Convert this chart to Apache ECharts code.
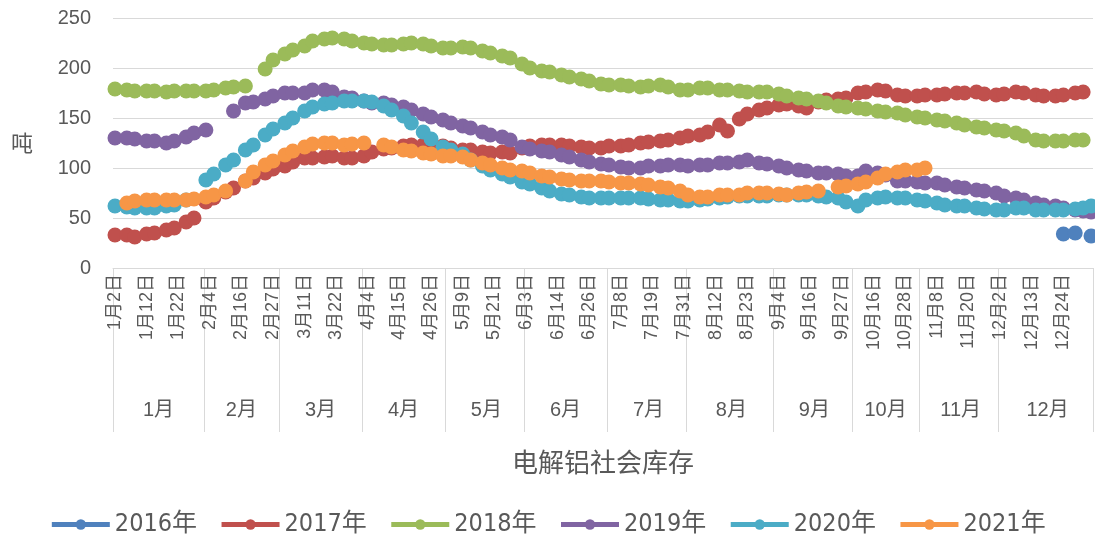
<!DOCTYPE html>
<html>
<head>
<meta charset="utf-8">
<script src="https://cdn.jsdelivr.net/npm/echarts@6/dist/echarts.min.js"></script>
<style>
html,body{margin:0;padding:0;background:#fff;}
#chart{width:1095px;height:540px;}
</style>
</head>
<body>
<div id="chart"></div>
<script>
// Trading-day categories, listed per month (day numbers)
const monthNames = ['1月','2月','3月','4月','5月','6月','7月','8月','9月','10月','11月','12月'];
const daysJan = [2,3,4,5,6,9,10,11,12,15,16,17,18,19,20,21,22,23,24,25,26,29,30];
const daysFeb = [1,4,5,6,7,8,11,12,13,16,19,20,21,22,23,25,26,27,28];
const daysMar = [1,4,5,6,7,8,11,12,13,14,15,18,19,21,22,25,26,27,28,29,30];
const daysApr = [1,4,5,8,9,10,11,12,13,15,16,17,18,19,22,24,25,26,27,28,29];
const daysMay = [2,3,6,8,9,10,13,14,15,16,17,20,21,22,23,24,27,28,29,31];
const daysJun = [3,4,5,6,7,10,11,12,14,17,18,19,20,21,24,25,26,27,28,29,30];
const daysJul = [1,2,5,8,9,10,11,12,15,16,18,19,22,23,24,25,26,29,30,31];
const daysAug = [1,2,5,6,7,8,9,12,13,14,15,16,19,20,22,23,26,27,28,29,30,31];
const daysSep = [3,4,5,6,9,10,11,12,13,16,17,18,19,20,23,24,26,27,29,30];
const daysOct = [9,10,11,12,15,16,17,18,19,22,23,24,25,28,29,30,31];
const daysNov = [1,4,5,7,8,11,12,13,14,15,18,19,20,21,22,25,26,27,28,29];
const daysDec = [2,3,4,5,6,9,10,11,13,14,16,17,18,19,20,23,24,25,26,27,28,29,30,31];
const monthDays = [daysJan,daysFeb,daysMar,daysApr,daysMay,daysJun,daysJul,daysAug,daysSep,daysOct,daysNov,daysDec];

// Positions (category index) of the report dates that carry values
const reportIdx = [0,3,5,8,10,13,15,18,20,23,25,28,30,33,35,38,40,43,45,48,
  50,53,55,58,60,63,65,68,70,73,75,78,80,83,85,88,90,93,95,98,
  100,103,105,108,110,113,115,118,120,123,125,128,130,133,135,138,140,143,145,148,
  150,153,155,158,160,163,165,168,170,173,175,178,180,183,185,188,190,193,195,198,
  200,203,205,208,210,213,215,218,220,223,225,228,230,233,235,238,240,243,245,247];

const _ = null;
const v2016 = [_,_,_,_,_,_,_,_,_,_, _,_,_,_,_,_,_,_,_,_, _,_,_,_,_,_,_,_,_,_, _,_,_,_,_,_,_,_,_,_,
  _,_,_,_,_,_,_,_,_,_, _,_,_,_,_,_,_,_,_,_, _,_,_,_,_,_,_,_,_,_, _,_,_,_,_,_,_,_,_,_,
  _,_,_,_,_,_,_,_,_,_, _,_,_,_,_,_,34,35,_,32];
const v2017 = [33,33,31,34,35,38,40,46,50,66, 70,76,80,87,90,95,99,102,106,110,
  110,111,112,110,110,112,116,119,120,122, 123,123,123,122,120,118,118,116,115,116,
  115,120,122,123,123,123,122,121,120,120, 122,122,123,125,126,127,128,130,132,133,
  136,143,137,149,154,158,160,163,164,162, 160,166,168,169,170,175,176,178,177,173,
  172,172,173,173,174,175,175,176,174,173, 174,176,175,173,172,172,173,175,176,_];
const v2018 = [179,178,177,177,177,176,177,177,177,177, 178,180,181,182,_,199,208,214,218,222,
  227,229,230,229,227,225,224,223,223,224, 225,224,222,220,220,221,220,217,215,212,
  210,204,200,197,196,193,191,189,187,184, 183,183,182,181,182,183,181,178,178,180,
  180,178,178,177,176,176,176,174,172,170, 169,167,165,162,161,160,159,157,156,155,
  153,151,150,148,147,145,143,141,140,138, 137,135,132,128,127,127,127,128,128,_];
const v2019 = [130,130,129,127,127,125,127,131,135,138, _,_,157,165,166,169,172,175,175,175,
  178,178,176,171,170,167,165,165,163,161, 158,154,151,148,145,142,140,136,133,131,
  128,121,119,117,116,113,111,108,106,104, 103,101,100,100,102,102,103,103,102,103,
  103,105,105,106,108,105,104,102,100,98, 97,95,95,94,92,92,97,95,93,87,
  87,86,85,85,83,81,80,78,77,75, 72,70,68,65,63,62,60,58,57,56];
const v2020 = [62,61,60,60,60,62,63,68,_,88, 94,103,108,118,123,133,139,145,150,157,
  161,164,165,167,167,167,166,162,158,152, 145,136,129,121,118,114,108,102,98,94,
  91,86,84,80,77,74,73,71,70,70, 70,70,70,70,69,68,68,67,67,68,
  69,70,71,72,72,72,72,73,73,73, 73,72,71,70,66,62,68,70,71,70,
  70,68,67,65,63,62,62,60,59,58, 58,60,60,58,58,58,58,59,60,62];
const v2021 = [_,65,67,68,68,68,68,68,69,71, 73,77,_,87,96,103,107,113,117,121,
  124,125,125,123,124,125,_,123,121,118, 117,115,114,112,112,111,108,105,103,100,
  98,97,95,92,91,89,88,87,87,87, 86,85,85,84,83,81,80,77,73,71,
  71,73,73,73,75,75,75,74,73,75, 76,77,_,81,82,84,86,90,94,96,
  98,98,100,_,_,_,_,_,_,_, _,_,_,_,_,_,_,_,_,_];

const seriesNames = ['2016年','2017年','2018年','2019年','2020年','2021年'];
const seriesValues = [v2016,v2017,v2018,v2019,v2020,v2021];
const colors = ['#4F81BD','#C0504D','#9BBB59','#8064A2','#4BACC6','#F79646'];

// Build categories and month structure
const categories = [];
const monthStart = new Set();
const monthMid = new Set();
monthDays.forEach((days, m) => {
  const start = categories.length;
  monthStart.add(start);
  monthMid.add(start + Math.floor(days.length / 2));
  days.forEach(d => categories.push(monthNames[m] + d + '日'));
});

function toData(vals) {
  const arr = categories.map(() => null);
  reportIdx.forEach((ci, k) => { if (vals[k] !== null && vals[k] !== undefined) arr[ci] = vals[k]; });
  return arr;
}

const labelFont = '"Liberation Sans", "Noto Sans CJK SC", sans-serif';
const grey = '#595959';

const chart = echarts.init(document.getElementById('chart'), null, {renderer: 'canvas'});
chart.setOption({
  animation: false,
  backgroundColor: '#fff',
  color: colors,
  grid: {left: 113, right: 2, top: 18, bottom: 272, containLabel: false},
  legend: {
    data: seriesNames,
    left: 'center',
    top: 507,
    itemWidth: 58,
    itemHeight: 13,
    itemGap: 22,
    lineStyle: {width: 5},
    textStyle: {fontSize: 25, color: grey, fontFamily: '"Liberation Sans Narrow", "DejaVu Sans Condensed", "Liberation Sans", "Noto Sans CJK SC", sans-serif'}
  },
  xAxis: [
    {
      type: 'category',
      data: categories,
      boundaryGap: true,
      axisLine: {show: true, lineStyle: {color: '#d9d9d9', width: 1}},
      axisTick: {show: false},
      splitLine: {show: false},
      axisLabel: {interval: 7, rotate: 90, margin: 6, fontSize: 18, color: grey, fontFamily: labelFont}
    },
    {
      type: 'category',
      data: categories,
      position: 'bottom',
      boundaryGap: true,
      axisLine: {show: false},
      axisTick: {show: true, length: 164, interval: (i) => monthStart.has(i), lineStyle: {color: '#d9d9d9', width: 1}},
      splitLine: {show: false},
      axisLabel: {
        interval: (i) => monthMid.has(i),
        formatter: (v) => v.split('月')[0] + '月',
        margin: 132, fontSize: 20, color: grey, fontFamily: labelFont
      },
      name: '电解铝社会库存',
      nameLocation: 'middle',
      nameGap: 181,
      nameTextStyle: {fontSize: 26, color: grey, fontFamily: '"Noto Sans CJK SC", sans-serif'}
    }
  ],
  yAxis: {
    type: 'value',
    min: 0, max: 250, interval: 50,
    axisLine: {show: false},
    axisTick: {show: false},
    splitLine: {lineStyle: {color: '#d9d9d9', width: 1}},
    axisLabel: {fontSize: 20, color: grey, margin: 22, fontFamily: labelFont},
    name: '吨',
    nameLocation: 'middle',
    nameRotate: 0,
    nameGap: 80,
    nameTextStyle: {fontSize: 22, color: grey, fontFamily: '"Noto Sans CJK SC", sans-serif'}
  },
  series: seriesNames.map((name, k) => ({
    name: name,
    type: 'line',
    xAxisIndex: 0,
    data: toData(seriesValues[k]),
    symbol: 'circle',
    symbolSize: 15,
    showSymbol: true,
    showAllSymbol: true,
    connectNulls: false,
    lineStyle: {width: 5, color: colors[k]},
    itemStyle: {color: colors[k]},
    emphasis: {disabled: true}
  }))
});
</script>
</body>
</html>
